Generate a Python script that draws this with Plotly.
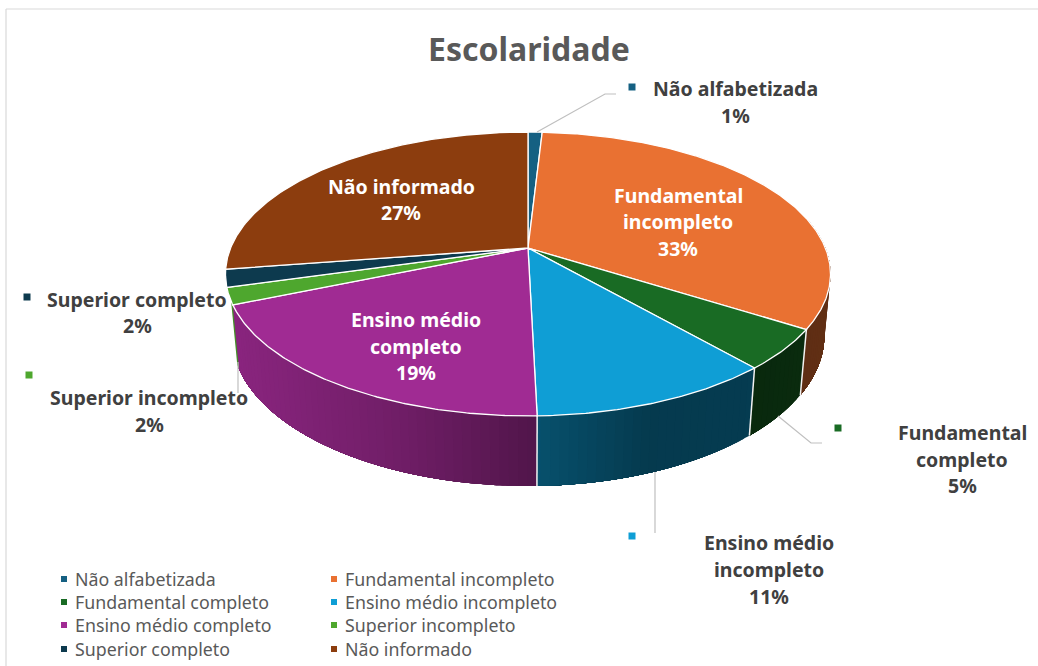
import numpy as np
import plotly.graph_objects as go

# ---- data ----
categories = ["Não alfabetizada", "Fundamental incompleto", "Fundamental completo",
              "Ensino médio incompleto", "Ensino médio completo", "Superior incompleto",
              "Superior completo", "Não informado"]
values = [0.9, 33.1, 4.6, 11.0, 19.1, 1.9, 2.0, 27.4]
colors = ["#156082", "#E97132", "#196B24", "#0F9ED5", "#A02B93", "#4EA72E", "#0D3A4E", "#8C3D0E"]

# ---- pie projection (perspective view of a disc) ----
CX, CY = 528.0, 248.0
A, B, K = 297.4, 137.2, 0.183
DROP, PERSP = 62.0, 0.02


def project(angle_deg, z=0.0):
    a = np.radians(angle_deg)
    u, v = np.sin(a), -np.cos(a)
    w = 1 - K * v + PERSP * z
    return CX + A * u / w, CY + (B * v + DROP * z) / w


def shade(hex_color, f):
    r, g, b = (int(hex_color[i:i + 2], 16) for i in (1, 3, 5))
    return f"rgb({int(r * f)},{int(g * f)},{int(b * f)})"


def wall_factor(x):
    return float(np.interp(x, [235, 300, 400, 530, 650, 750, 830],
                           [0.86, 0.80, 0.70, 0.52, 0.37, 0.38, 0.42]))


edges = np.concatenate([[0], np.cumsum(values)]) / sum(values) * 360

fig = go.Figure()

# side walls, slice by slice so the shade can change along the rim.
# Each slice reaches to the end of its wedge, and the next one paints over it: no seams.
for i, color in enumerate(colors):
    a0, a1 = edges[i], edges[i + 1]
    lo, hi = max(a0, 75), min(a1, edges[5] + 1.5)
    if lo >= hi:
        continue
    for s0 in np.arange(lo, hi, 1.5):
        ang = np.linspace(s0, hi, max(3, int((hi - s0) * 2)))
        xt, yt = project(ang)
        xb, yb = project(ang, 1.0)
        c = shade(color, wall_factor(float(project(s0 + 0.75)[0])))
        fig.add_trace(go.Scatter(
            x=np.concatenate([xt, xb[::-1], xt[:1]]), y=np.concatenate([yt, yb[::-1], yt[:1]]),
            mode="none", fill="toself", fillcolor=c,
            hoverinfo="skip", showlegend=False))

# white seams on the wall
for e in edges[2:5]:
    xt, yt = project(e)
    xe, ye = project(e, 1.0)
    fig.add_trace(go.Scatter(x=[xt, xe], y=[yt, ye], mode="lines",
                             line=dict(color="#F2F2F2", width=1.5), hoverinfo="skip", showlegend=False))

# top face
for i, (name, color) in enumerate(zip(categories, colors)):
    ang = np.linspace(edges[i], edges[i + 1], max(3, int(edges[i + 1] - edges[i]) * 2))
    xt, yt = project(ang)
    fig.add_trace(go.Scatter(
        x=np.concatenate([[CX], xt, [CX]]), y=np.concatenate([[CY], yt, [CY]]),
        mode="lines", fill="toself", fillcolor=color, line=dict(color="#FFFFFF", width=1.3),
        name=name, text=f"{name}: {values[i]:.0f}%", hoverinfo="text", showlegend=False))

# ---- layout of texts ----
pct = [f"{v:.0f}%" for v in values]
LABEL_DARK = "#404040"
label_lines = [
    (0, 735, [88, 115], ["Não alfabetizada"], LABEL_DARK),
    (1, 678, [195, 221, 248], ["Fundamental", "incompleto"], "#FFFFFF"),
    (2, 962, [432, 459, 485], ["Fundamental", "completo"], LABEL_DARK),
    (3, 769, [542, 569, 596], ["Ensino médio", "incompleto"], LABEL_DARK),
    (4, 416, [319, 346, 372], ["Ensino médio", "completo"], "#FFFFFF"),
    (5, 149, [397, 424], ["Superior incompleto"], LABEL_DARK),
    (6, 137, [299, 325], ["Superior completo"], LABEL_DARK),
    (7, 401, [186, 212], ["Não informado"], "#FFFFFF"),
]
FONT = "Noto Sans"
annotations = []
for idx, x, ys, lines, col in label_lines:
    for y, t in zip(ys, lines + [pct[idx]]):
        annotations.append(dict(x=x, y=y, text=f"<b>{t}</b>", showarrow=False, xanchor="center",
                                yanchor="middle", font=dict(family=FONT, size=19.5, color=col)))

annotations.append(dict(x=528.5, y=48, text="<b>Escolaridade</b>", showarrow=False, xanchor="center",
                        yanchor="middle", font=dict(family=FONT, size=32, color="#595959")))

# label keys
key_pos = {0: (632, 87), 2: (838, 428), 3: (632, 536), 6: (27, 297), 5: (29, 375)}
for idx, (x, y) in key_pos.items():
    fig.add_trace(go.Scatter(x=[x], y=[y], mode="markers", hoverinfo="skip", showlegend=False,
                             marker=dict(symbol="square", size=7, color=colors[idx])))

# legend block
legend_x = [64, 334]
legend_y = [579, 602, 625, 649]
for i, (name, color) in enumerate(zip(categories, colors)):
    x, y = legend_x[i % 2], legend_y[i // 2]
    fig.add_trace(go.Scatter(x=[x], y=[y], mode="markers", hoverinfo="skip", showlegend=False,
                             marker=dict(symbol="square", size=6, color=color)))
    annotations.append(dict(x=x + 9, y=y, text=name, showarrow=False, xanchor="left", yanchor="middle",
                            font=dict(family=FONT, size=17.8, color="#595959")))

# leader lines
leaders = [([537, 605, 616], [132, 94, 94]),
           ([778, 811, 822], [416, 443, 443]),
           ([655, 655], [472, 533]),
           ([238, 238], [362, 393])]
for lx, ly in leaders:
    fig.add_trace(go.Scatter(x=lx, y=ly, mode="lines", line=dict(color="#BFBFBF", width=1.2),
                             hoverinfo="skip", showlegend=False))

frame = [dict(type="line", xref="x", yref="y", x0=6, x1=1038, y0=9, y1=9, line=dict(color="#D9D9D9", width=1.2)),
         dict(type="line", xref="x", yref="y", x0=6, x1=6, y0=9, y1=666, line=dict(color="#D9D9D9", width=1.2))]

fig.update_layout(
    width=1038, height=666, margin=dict(l=0, r=0, t=0, b=0),
    paper_bgcolor="#FFFFFF", plot_bgcolor="#FFFFFF", showlegend=False,
    xaxis=dict(range=[0, 1038], visible=False, fixedrange=True),
    yaxis=dict(range=[666, 0], visible=False, fixedrange=True),
    annotations=annotations, shapes=frame,
)
fig.write_html("out.html", config={"displayModeBar": False},
               post_script="document.body.style.margin='0';document.documentElement.style.overflow='hidden';")
